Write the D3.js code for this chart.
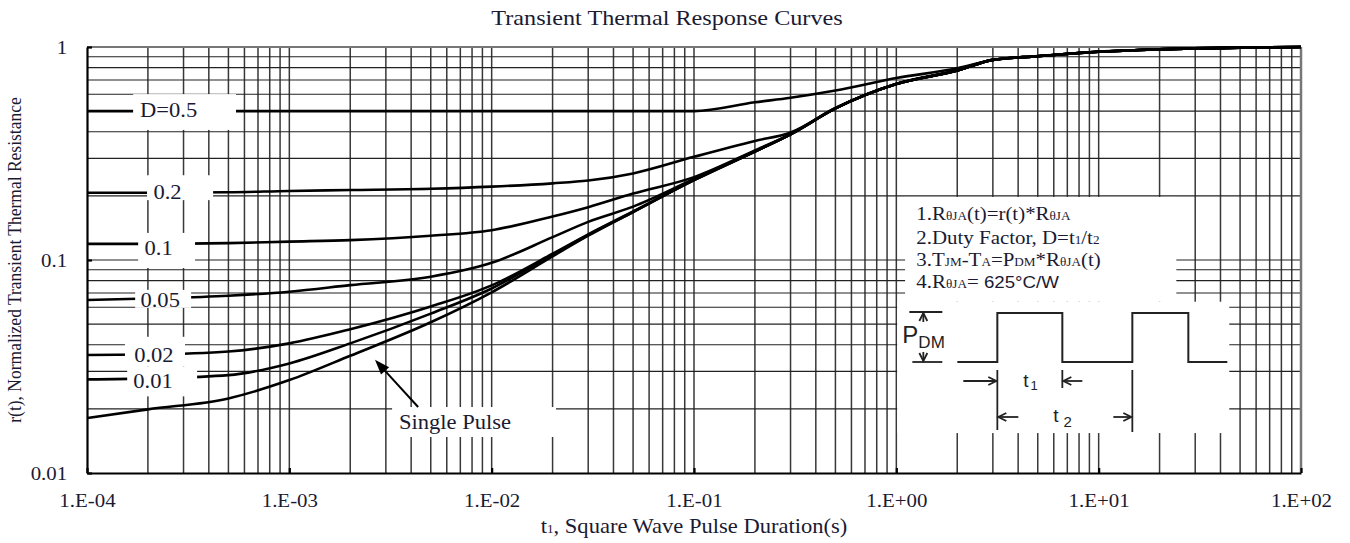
<!DOCTYPE html>
<html>
<head>
<meta charset="utf-8">
<script src="https://cdn.jsdelivr.net/npm/d3@7"></script>
<style>
  body { margin: 0; background: #fff; }
  svg { display: block; background: #fff; }
  .serif { font-family: "Liberation Serif", "Times New Roman", serif; fill: #1a1a33; }
  .sans { font-family: "Liberation Sans", Arial, sans-serif; fill: #222; }
</style>
</head>
<body>
<svg id="chart" width="1350" height="543"></svg>
<script>
const pulseTimes = [1e-4, 2e-4, 5e-4, 1e-3, 2e-3, 5e-3, 1e-2, 2e-2, 3e-2, 5e-2, 1e-1, 2e-1, 3e-1, 5e-1, 1, 2, 3, 5, 10, 20, 50, 100];

// normalized transient thermal resistance r(t) per duty factor
const duty05 = [0.5, 0.5, 0.5, 0.5, 0.5, 0.5, 0.5, 0.5, 0.5, 0.5, 0.5, 0.55, 0.578, 0.625, 0.715, 0.794, 0.869, 0.907, 0.95, 0.975, 0.993, 1.0];
const duty02 = [0.207, 0.207, 0.208, 0.211, 0.213, 0.216, 0.221, 0.229, 0.236, 0.255, 0.305, 0.362, 0.397, 0.517, 0.672, 0.78, 0.87, 0.905, 0.95, 0.975, 0.993, 1.0];
const duty01 = [0.119, 0.119, 0.12, 0.122, 0.124, 0.13, 0.138, 0.16, 0.177, 0.205, 0.245, 0.327, 0.39, 0.515, 0.67, 0.775, 0.87, 0.905, 0.95, 0.975, 0.993, 1.0];
const duty005 = [0.0649, 0.066, 0.068, 0.071, 0.0762, 0.0835, 0.097, 0.128, 0.151, 0.178, 0.24, 0.324, 0.389, 0.515, 0.67, 0.775, 0.87, 0.905, 0.95, 0.975, 0.993, 1.0];
const duty002 = [0.0358, 0.036, 0.0372, 0.0406, 0.0473, 0.0605, 0.076, 0.107, 0.132, 0.169, 0.238, 0.323, 0.389, 0.515, 0.67, 0.775, 0.87, 0.905, 0.95, 0.975, 0.993, 1.0];
const duty001 = [0.0275, 0.0278, 0.0288, 0.0327, 0.0406, 0.056, 0.0735, 0.106, 0.131, 0.168, 0.237, 0.323, 0.389, 0.515, 0.67, 0.775, 0.87, 0.905, 0.95, 0.975, 0.993, 1.0];
const singlePulse = [0.0181, 0.0199, 0.0224, 0.0273, 0.0355, 0.051, 0.0705, 0.104, 0.13, 0.168, 0.237, 0.323, 0.389, 0.515, 0.67, 0.774, 0.87, 0.905, 0.95, 0.975, 0.993, 1.0];

const xTickValues = [1e-4, 1e-3, 1e-2, 1e-1, 1, 10, 100];
const xTickLabels = ["1.E-04", "1.E-03", "1.E-02", "1.E-01", "1.E+00", "1.E+01", "1.E+02"];
const yTickValues = [0.01, 0.1, 1];
const yTickLabels = ["0.01", "0.1", "1"];

// curve labels sit in white gaps cut out of the grid
const curveLabels = [
  { text: "D=0.5", t: 2.53e-4, v: 0.505 },
  { text: "0.2", t: 2.5e-4, v: 0.209 },
  { text: "0.1", t: 2.26e-4, v: 0.114 },
  { text: "0.05", t: 2.3e-4, v: 0.0649 },
  { text: "0.02", t: 2.14e-4, v: 0.0358 },
  { text: "0.01", t: 2.12e-4, v: 0.027 },
];
const gapBoxes = [
  { t0: 1.69e-4, t1: 5.45e-4, v0: 0.408, v1: 0.601 },
  { t0: 1.98e-4, t1: 4.2e-4, v0: 0.191, v1: 0.25 },
  { t0: 1.79e-4, t1: 3.42e-4, v0: 0.0917, v1: 0.134 },
  { t0: 1.73e-4, t1: 3.27e-4, v0: 0.0596, v1: 0.0724 },
  { t0: 1.54e-4, t1: 3.05e-4, v0: 0.0316, v1: 0.0436 },
  { t0: 1.58e-4, t1: 3.5e-4, v0: 0.0229, v1: 0.0316 },
  { t0: 3.22e-3, t1: 2.08e-2, v0: 0.01476, v1: 0.0204 },
  { t0: 1.105, t1: 24.2, v0: 0.0637, v1: 0.1977 },
  { t0: 1.01, t1: 44.2, v0: 0.0154, v1: 0.0637 },
];
const singleLabel = { text: "Single Pulse", t: 6.59e-3, v: 0.01736 };
const singleArrow = { tailT: 4.33e-3, tailV: 0.0204, tipT: 2.65e-3, tipV: 0.034 };

const SX = 1.1; // source text is slightly stretched sideways

const svg = d3.select("#chart");
const margin = { top: 47, right: 49, bottom: 70, left: 87 };
const W = 1350 - margin.left - margin.right;
const H = 543 - margin.top - margin.bottom;

const x = d3.scaleLog().domain([1e-4, 100]).range([0, W]);
const y = d3.scaleLog().domain([0.01, 1]).range([H, 0]);

const g = svg.append("g").attr("transform", `translate(${margin.left},${margin.top})`);

// grid
g.append("g").selectAll("line")
  .data(x.ticks().filter((d) => d > 1e-4 * 1.01 && d < 99))
  .join("line")
  .attr("x1", (d) => x(d)).attr("x2", (d) => x(d))
  .attr("y1", 0).attr("y2", H)
  .attr("stroke", "#383838").attr("stroke-width", 1.5);

g.append("g").selectAll("line")
  .data(y.ticks().filter((d) => d > 0.0101 && d < 0.99))
  .join("line")
  .attr("x1", 0).attr("x2", W)
  .attr("y1", (d) => y(d)).attr("y2", (d) => y(d))
  .attr("stroke", "#222").attr("stroke-width", 1.2);

// frame: top and right are lighter
g.append("line").attr("x1", 0).attr("x2", W).attr("y1", 0).attr("y2", 0)
  .attr("stroke", "#777").attr("stroke-width", 2);
g.append("line").attr("x1", W).attr("x2", W).attr("y1", 0).attr("y2", H)
  .attr("stroke", "#777").attr("stroke-width", 2.5);

// curves
const series = [duty05, duty02, duty01, duty005, duty002, duty001, singlePulse];
const line = d3.line()
  .x((d, i) => x(pulseTimes[i]))
  .y((d) => y(d))
  .curve(d3.curveMonotoneX);

g.append("g").selectAll("path")
  .data(series)
  .join("path")
  .attr("d", line)
  .attr("fill", "none")
  .attr("stroke", "#000")
  .attr("stroke-width", 2.6)
  .attr("stroke-linejoin", "round");

// white gaps for labels and notes
g.append("g").selectAll("rect")
  .data(gapBoxes)
  .join("rect")
  .attr("x", (d) => x(d.t0))
  .attr("y", (d) => y(d.v1))
  .attr("width", (d) => x(d.t1) - x(d.t0))
  .attr("height", (d) => y(d.v0) - y(d.v1))
  .attr("fill", "#fff");

// axes
const xAxis = g.append("g")
  .attr("transform", `translate(0,${H})`)
  .call(d3.axisBottom(x)
    .tickValues(xTickValues)
    .tickFormat((d) => xTickLabels[xTickValues.indexOf(d)])
    .tickSizeInner(-5).tickSizeOuter(0).tickPadding(21));

const yAxis = g.append("g")
  .call(d3.axisLeft(y)
    .tickValues(yTickValues)
    .tickFormat((d) => yTickLabels[yTickValues.indexOf(d)])
    .tickSizeInner(-5).tickSizeOuter(0).tickPadding(18));

[xAxis, yAxis].forEach((ax) => {
  ax.select(".domain").attr("stroke", "#000").attr("stroke-width", 2.2);
  ax.selectAll(".tick line").attr("stroke", "#000").attr("stroke-width", 2.2);
  ax.selectAll(".tick text")
    .attr("class", "serif")
    .attr("font-size", 19)
    .attr("fill", "#1a1a33")
    .attr("transform", `scale(${SX},1)`);
});

const addText = (parent, px, py, str, size, anchor = "middle", cls = "serif") => {
  return parent.append("g")
    .attr("transform", `translate(${px},${py})`)
    .append("text")
    .attr("class", cls)
    .attr("transform", `scale(${SX},1)`)
    .attr("font-size", size)
    .attr("text-anchor", anchor)
    .text(str);
};

// curve labels
curveLabels.forEach((d) => {
  addText(g, x(d.t), y(d.v), d.text, 20.5).attr("dy", "0.35em");
});

addText(g, x(singleLabel.t), y(singleLabel.v), singleLabel.text, 20.5).attr("dy", "0.35em");

// arrow to the single pulse curve
{
  const x1 = x(singleArrow.tailT), y1 = y(singleArrow.tailV);
  const x2 = x(singleArrow.tipT), y2 = y(singleArrow.tipV);
  const ang = Math.atan2(y2 - y1, x2 - x1);
  const len = 15, half = 5.5;
  const bx = x2 - len * Math.cos(ang), by = y2 - len * Math.sin(ang);
  g.append("line")
    .attr("x1", x1).attr("y1", y1).attr("x2", bx).attr("y2", by)
    .attr("stroke", "#000").attr("stroke-width", 2);
  g.append("path")
    .attr("d", `M${x2},${y2}L${bx + half * Math.sin(ang)},${by - half * Math.cos(ang)}L${bx - half * Math.sin(ang)},${by + half * Math.cos(ang)}Z`)
    .attr("fill", "#000");
}

// title and axis titles
addText(svg, 667, 25, "Transient Thermal Response Curves", 22);

const xt = addText(svg, margin.left + W / 2, 533, "", 20.5);
xt.append("tspan").text("t");
xt.append("tspan").attr("font-size", 12).text("1");
xt.append("tspan").text(", Square Wave Pulse Duration(s)");

svg.append("g")
  .attr("transform", `translate(21,${margin.top + y(0.1)}) rotate(-90)`)
  .append("text")
  .attr("class", "serif")
  .attr("transform", `scale(1,${SX})`)
  .attr("font-size", 17.5)
  .attr("text-anchor", "middle")
  .text("r(t), Normalized Transient Thermal Resistance");

// notes block, anchored at t = 1 s, r = 0.1
const notes = g.append("g").attr("transform", `translate(${x(1)},${y(0.1)})`);
const noteLine = (dy) => addText(notes, 20, dy, "", 19, "start");
const small = (t, s) => t.append("tspan").attr("font-size", 12).text(s);
const big = (t, s) => t.append("tspan").text(s);

let n1 = noteLine(-40);
big(n1, "1.R"); small(n1, "θJA"); big(n1, "(t)=r(t)*R"); small(n1, "θJA");
let n2 = noteLine(-16);
big(n2, "2.Duty Factor, D=t"); small(n2, "1"); big(n2, "/t"); small(n2, "2");
let n3 = noteLine(6);
big(n3, "3.T"); small(n3, "JM"); big(n3, "-T"); small(n3, "A"); big(n3, "=P"); small(n3, "DM"); big(n3, "*R"); small(n3, "θJA"); big(n3, "(t)");
let n4 = noteLine(28);
big(n4, "4.R"); small(n4, "θJA"); big(n4, "=");
n4.append("tspan").attr("font-family", "Liberation Sans, Arial, sans-serif").attr("font-size", 17).text(" 625°C/W");

// pulse train sketch
const wave = [[61, 102], [101, 102], [101, 53], [166, 53], [166, 102], [236, 102], [236, 53], [292, 53], [292, 102], [331, 102]];
notes.append("path")
  .attr("d", d3.line()(wave))
  .attr("fill", "none").attr("stroke", "#222").attr("stroke-width", 2);

const seg = (x1, y1, x2, y2, w = 1.8) => notes.append("line")
  .attr("x1", x1).attr("y1", y1).attr("x2", x2).attr("y2", y2)
  .attr("stroke", "#222").attr("stroke-width", w);
const head = (tx, ty, dir) => {
  // open arrow head; dir: "r", "l", "u", "d"
  const v = { r: [-1, 0], l: [1, 0], u: [0, 1], d: [0, -1] }[dir];
  const bx = tx + v[0] * 8, by = ty + v[1] * 8;
  const px = v[1] * 4, py = v[0] * 4;
  notes.append("path")
    .attr("d", `M${bx + px},${by + py}L${tx},${ty}L${bx - px},${by - py}`)
    .attr("fill", "none").attr("stroke", "#222").attr("stroke-width", 1.8);
};

// P_DM markers
seg(13, 52, 46, 52);
seg(16, 102, 46, 102);
seg(27, 53, 27, 62); head(27, 53, "u");
seg(27, 92, 27, 101); head(27, 101, "d");
const pdm = notes.append("text").attr("class", "sans").attr("x", 6).attr("y", 83).attr("font-size", 24);
pdm.append("tspan").text("P");
pdm.append("tspan").attr("font-size", 17).attr("dy", 5).text("DM");

// t1 / t2 dimensions
seg(101, 110, 101, 170);
seg(166, 110, 166, 128);
seg(236, 110, 236, 172);
seg(67, 121, 100, 121); head(100, 121, "r");
seg(167, 121, 186, 121); head(167, 121, "l");
seg(102, 157, 122, 157); head(102, 157, "l");
seg(217, 157, 235, 157); head(235, 157, "r");

const t1 = notes.append("text").attr("class", "sans").attr("x", 127).attr("y", 127).attr("font-size", 19);
t1.append("tspan").text("t");
t1.append("tspan").attr("font-size", 13).attr("dx", 2).attr("dy", 3).text("1");
const t2 = notes.append("text").attr("class", "sans").attr("x", 157).attr("y", 162).attr("font-size", 19);
t2.append("tspan").text("t");
t2.append("tspan").attr("font-size", 15).attr("dx", 5).attr("dy", 5).text("2");
</script>
</body>
</html>
